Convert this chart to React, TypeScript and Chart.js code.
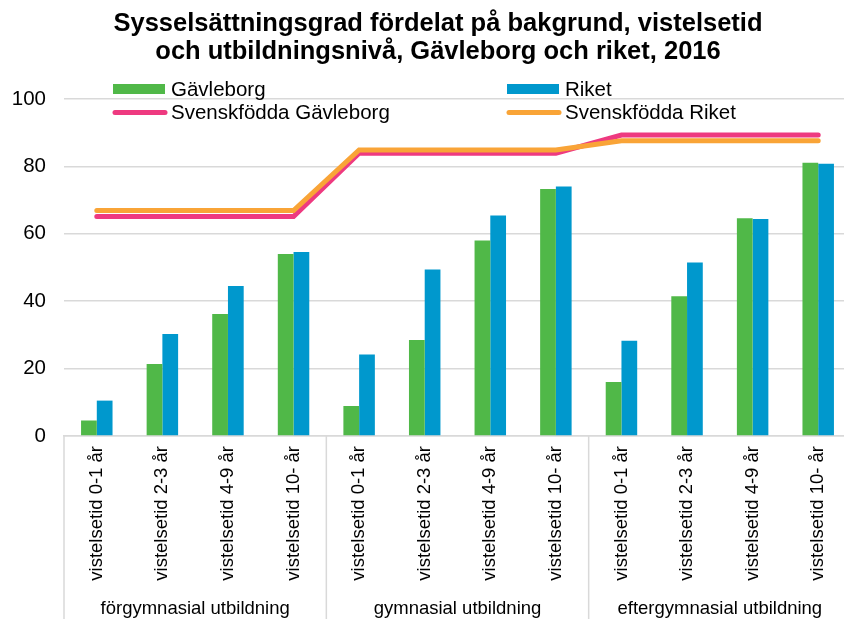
import React, { useEffect, useRef } from "react";
import { Chart, registerables } from "chart.js";

Chart.register(...registerables);

const TITLE_LINES = [
  "Sysselsättningsgrad fördelat på bakgrund, vistelsetid",
  "och utbildningsnivå, Gävleborg och riket, 2016",
];
const GROUPS = ["förgymnasial utbildning", "gymnasial utbildning", "eftergymnasial utbildning"];
const DURATIONS = ["vistelsetid 0-1 år", "vistelsetid 2-3 år", "vistelsetid 4-9 år", "vistelsetid 10- år"];
const Y_TICKS = [0, 20, 40, 60, 80, 100];

const GAVLEBORG = [4.6, 21.4, 36.2, 54.0, 8.9, 28.5, 58.0, 73.3, 16.0, 41.5, 64.6, 81.1];
const RIKET = [10.5, 30.3, 44.5, 54.6, 24.2, 49.4, 65.4, 74.0, 28.3, 51.5, 64.4, 80.8];
const SV_GAVLEBORG = [65.1, 65.1, 65.1, 65.1, 83.9, 83.9, 83.9, 83.9, 89.3, 89.3, 89.3, 89.3];
const SV_RIKET = [66.9, 66.9, 66.9, 66.9, 84.9, 84.9, 84.9, 84.9, 87.6, 87.6, 87.6, 87.6];

const LABELS: string[] = [];
GROUPS.forEach(() => DURATIONS.forEach((d) => LABELS.push(d)));

const FONT = "'Liberation Sans', Arial, sans-serif";
const GRID = "#d9d9d9";

const decorPlugin = {
  id: "decor",
  afterDraw(chart: any) {
    const ctx = chart.ctx as CanvasRenderingContext2D;
    const x = chart.scales.x;
    const area = chart.chartArea;
    ctx.save();
    // title
    ctx.fillStyle = "#000";
    ctx.font = `bold 25.5px ${FONT}`;
    ctx.textAlign = "center";
    ctx.textBaseline = "alphabetic";
    const cx = 438;
    ctx.fillText(TITLE_LINES[0], cx, 31);
    ctx.fillText(TITLE_LINES[1], cx, 59);

    // group separators and labels
    const step = x.getPixelForValue(1) - x.getPixelForValue(0);
    const per = DURATIONS.length;
    ctx.strokeStyle = GRID;
    ctx.lineWidth = 1.5;
    for (let g = 0; g <= GROUPS.length; g++) {
      const px = x.getPixelForValue(g * per) - step / 2;
      ctx.beginPath();
      ctx.moveTo(px, area.bottom);
      ctx.lineTo(px, chart.height);
      ctx.stroke();
    }
    ctx.font = `18.5px ${FONT}`;
    ctx.fillStyle = "#000";
    ctx.textBaseline = "middle";
    GROUPS.forEach((name, g) => {
      const a = x.getPixelForValue(g * per) - step / 2;
      const b = x.getPixelForValue(g * per + per - 1) + step / 2;
      ctx.fillText(name, (a + b) / 2, 609);
    });

    // legend
    const cols = [113, 507];
    const rows = [89, 112.5];
    ctx.font = `20.5px ${FONT}`;
    ctx.textAlign = "left";
    ctx.textBaseline = "middle";
    chart.data.datasets.forEach((ds: any, i: number) => {
      const lx = cols[i % 2];
      const ly = rows[Math.floor(i / 2)];
      if (ds.type === "line") {
        ctx.strokeStyle = ds.borderColor;
        ctx.lineWidth = 5;
        ctx.lineCap = "round";
        ctx.beginPath();
        ctx.moveTo(lx + 2, ly);
        ctx.lineTo(lx + 52, ly);
        ctx.stroke();
      } else {
        ctx.fillStyle = ds.backgroundColor;
        ctx.fillRect(lx, ly - 5, 52, 10);
      }
      ctx.fillStyle = "#000";
      ctx.fillText(ds.label, lx + 58, ly + 1);
    });
    ctx.restore();
  },
};

export default function App() {
  const ref = useRef<HTMLCanvasElement | null>(null);
  useEffect(() => {
    if (!ref.current) return;
    const chart = new Chart(ref.current, {
      type: "bar",
      data: {
        labels: LABELS,
        datasets: [
          {
            type: "bar",
            label: "Gävleborg",
            data: GAVLEBORG,
            backgroundColor: "#50b848",
            borderWidth: 0,
            categoryPercentage: 0.48,
            barPercentage: 1,
            order: 2,
          },
          {
            type: "bar",
            label: "Riket",
            data: RIKET,
            backgroundColor: "#0098cd",
            borderWidth: 0,
            categoryPercentage: 0.48,
            barPercentage: 1,
            order: 2,
          },
          {
            type: "line",
            label: "Svenskfödda Gävleborg",
            data: SV_GAVLEBORG,
            borderColor: "#ee3a80",
            backgroundColor: "#ee3a80",
            borderWidth: 5,
            pointRadius: 0,
            borderCapStyle: "round",
            tension: 0,
            order: 1,
          },
          {
            type: "line",
            label: "Svenskfödda Riket",
            data: SV_RIKET,
            borderColor: "#f9a437",
            backgroundColor: "#f9a437",
            borderWidth: 5,
            pointRadius: 0,
            borderCapStyle: "round",
            tension: 0,
            order: 0,
          },
        ] as any,
      },
      options: {
        animation: false,
        responsive: false,
        devicePixelRatio: 1,
        layout: { padding: { top: 99, left: 0, right: 1, bottom: 0 } },
        plugins: {
          legend: { display: false },
          title: { display: false },
          tooltip: { enabled: false },
        },
        scales: {
          x: {
            grid: { display: false, drawTicks: false },
            border: { display: true, color: GRID, width: 1.5 },
            ticks: {
              minRotation: 90,
              maxRotation: 90,
              autoSkip: false,
              padding: 10,
              color: "#000",
              font: { family: FONT, size: 18.5 },
            },
            afterFit(scale: any) {
              scale.height = 183;
            },
          },
          y: {
            min: 0,
            max: 100,
            afterBuildTicks(scale: any) {
              scale.ticks = Y_TICKS.map((v) => ({ value: v }));
            },
            grid: { color: GRID, lineWidth: 1.5, drawTicks: false },
            border: { display: false },
            ticks: {
              padding: 18,
              color: "#000",
              font: { family: FONT, size: 20.5 },
            },
            afterFit(scale: any) {
              scale.width = 64;
            },
          },
        },
      } as any,
      plugins: [decorPlugin],
    });
    return () => chart.destroy();
  }, []);
  return (
    <div style={{ position: "absolute", left: 0, top: 0, width: 844, height: 619, overflow: "hidden", background: "#fff" }}>
      <canvas ref={ref} width={852} height={619} style={{ display: "block" }} />
    </div>
  );
}
